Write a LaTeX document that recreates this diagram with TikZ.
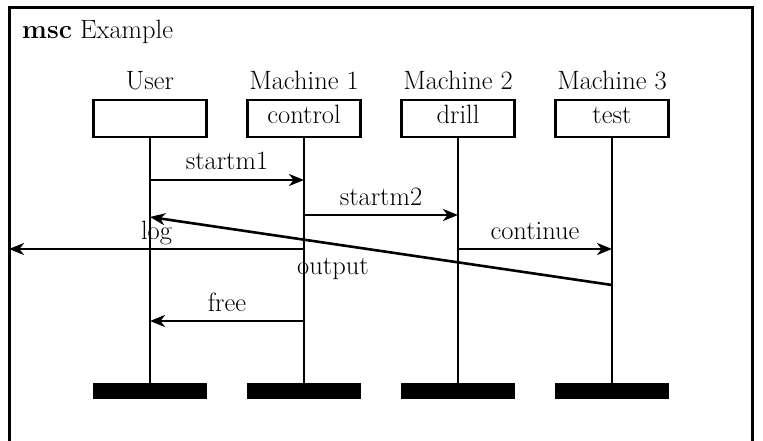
\documentclass[tikz,border=0pt]{standalone}
\usetikzlibrary{arrows.meta}
\begin{document}
\begin{tikzpicture}[x=1pt,y=-1pt,
  every node/.style={font=\fontsize{26.5}{32}\selectfont, inner sep=0pt},
  head/.style={draw, line width=2.4pt, minimum width=113pt, minimum height=37pt, text height=17pt, text depth=6pt},
  endbar/.style={fill=black, minimum width=114pt, minimum height=16pt},
  life/.style={line width=2.4pt},
  msg/.style={line width=2.6pt, -{Stealth[length=15pt,width=12pt,inset=4.5pt]}},
  lbl/.style={midway, anchor=base, yshift=10pt}]
\useasboundingbox (0,0) rectangle (763,441);
\clip (0,0) rectangle (763,441);
\fill[white] (0,0) rectangle (763,441);
% frame
\draw[line width=3pt] (9,8) rectangle (752,480);
\node[anchor=base west] (title) at (22,39) {\textbf{msc} Example};
% instance names
\node[anchor=base] (nu) at (150,90) {User};
\node[anchor=base] (n1) at (304,90) {Machine 1};
\node[anchor=base] (n2) at (458,90) {Machine 2};
\node[anchor=base] (n3) at (612,90) {Machine 3};
% heads
\node[head] (hu) at (150,118.5) {};
\node[head] (h1) at (304,118.5) {control};
\node[head] (h2) at (458,118.5) {drill};
\node[head] (h3) at (612,118.5) {test};
% end bars
\node[endbar] (eu) at (150,391) {};
\node[endbar] (e1) at (304,391) {};
\node[endbar] (e2) at (458,391) {};
\node[endbar] (e3) at (612,391) {};
% lifelines
\draw[life] (hu.south) -- (eu.north);
\draw[life] (h1.south) -- (e1.north);
\draw[life] (h2.south) -- (e2.north);
\draw[life] (h3.south) -- (e3.north);
% message points
\coordinate (u1) at (150,180);
\coordinate (m1a) at (304,180);
\coordinate (m1b) at (304,215);
\coordinate (m2a) at (458,215);
\coordinate (m1c) at (304,249);
\coordinate (envL) at (9,249);
\coordinate (m2b) at (458,249);
\coordinate (m3a) at (612,249);
\coordinate (m3b) at (612,285);
\coordinate (u2) at (150,217);
\coordinate (m1d) at (304,321);
\coordinate (u3) at (150,321);
% messages
\draw[msg] (u1) -- node[lbl] {startm1} (m1a);
\draw[msg] (m1b) -- node[lbl] {startm2} (m2a);
\draw[msg] (m1c) -- node[lbl] {log} (envL);
\draw[msg] (m2b) -- node[lbl] {continue} (m3a);
\draw[msg] (m3b) -- node[pos=0.604, anchor=base, yshift=-31pt] {output} (u2);
\draw[msg] (m1d) -- node[lbl] {free} (u3);
\end{tikzpicture}
\end{document}
